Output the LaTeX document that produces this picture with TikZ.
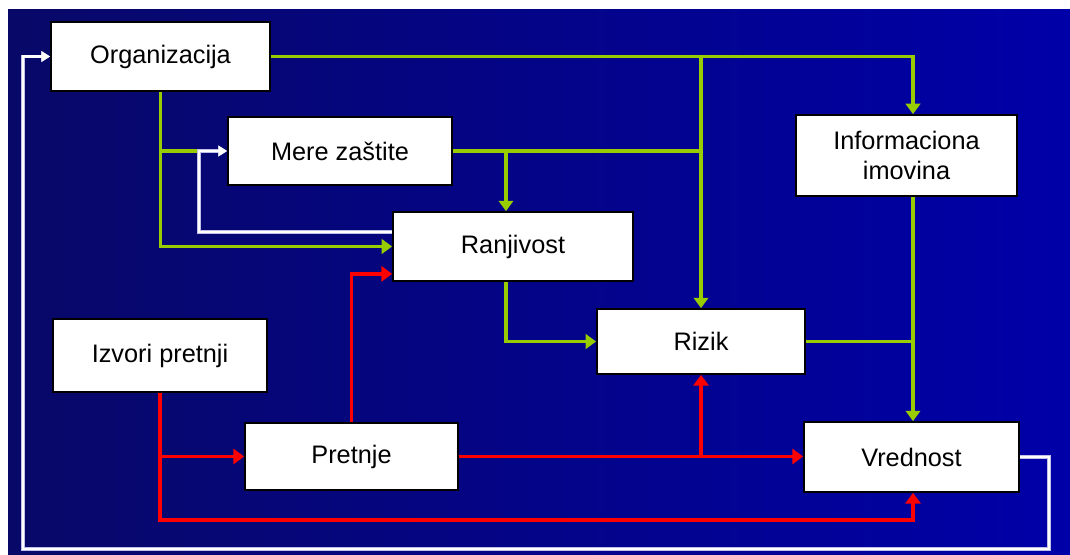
\documentclass[tikz,border=0pt]{standalone}
\usepackage{fontspec}
\setmainfont{Liberation Sans}
\usetikzlibrary{arrows.meta,positioning,calc}
\definecolor{bgleft}{RGB}{8,8,104}
\definecolor{bgright}{RGB}{0,0,168}
\definecolor{linegreen}{RGB}{153,204,0}
\definecolor{linered}{RGB}{255,0,0}
\definecolor{lineedge}{RGB}{190,190,230}
\tikzset{
  box/.style    = {draw=black,line width=1.2pt,fill=white,align=center,
                   font=\fontsize{18}{21.5}\selectfont,inner sep=2pt},
  gline/.style  = {line width=2.5pt,color=linegreen},
  garrow/.style = {gline,-{Triangle[width=0.36cm,length=0.26cm]}},
  rline/.style  = {line width=2.5pt,color=linered},
  rarrow/.style = {rline,-{Triangle[width=0.38cm,length=0.27cm]}},
  warrow/.style = {line width=1.5pt,color=white,
                   preaction={draw=lineedge,line width=2.6pt},
                   -{Triangle[width=0.26cm,length=0.22cm]}},
}
\begin{document}
\begin{tikzpicture}[x=0.025cm,y=-0.025cm]
  \useasboundingbox (0,0) rectangle (1070,554);
  \fill[white] (0,0) rectangle (1070,554);
  \shade[left color=bgleft,right color=bgright] (8,9) rectangle (1070,554);

  \node[box,minimum width=5.475cm,minimum height=1.725cm] (org) at (160.5,56.5) {Organizacija};
  \node[box,minimum width=5.6cm,minimum height=1.7cm] (mere) at (340,151) {Mere zaštite};
  \node[box,minimum width=6.0cm,minimum height=1.725cm] (ranj) at (513,246.5) {Ranjivost};
  \node[box,minimum width=5.525cm,minimum height=2.025cm] (info) at (906.5,155.5) {Informaciona\\imovina};
  \node[box,minimum width=5.2cm,minimum height=1.625cm] (rizik) at (701,341.5) {Rizik};
  \node[box,minimum width=5.35cm,minimum height=1.825cm] (izvori) at (160,355.5) {Izvori pretnji};
  \node[box,minimum width=5.325cm,minimum height=1.675cm] (pretnje) at (351.5,456.5) {Pretnje};
  \node[box,minimum width=5.375cm,minimum height=1.75cm] (vred) at (911.5,457) {Vrednost};

  \coordinate (infoin) at ($(info.north)+(6.5,0)$);
  \coordinate (infoout) at ($(info.south)+(6.5,0)$);
  \coordinate (vredin) at ($(vred.north)+(1.5,0)$);
  \coordinate (vredlow) at ($(vred.south)+(1.5,0)$);
  \coordinate (ranjin) at ($(ranj.north)+(-7,0)$);
  \coordinate (ranjout) at ($(ranj.south)+(-7,0)$);
  \coordinate (loopR) at (1049,549);
  \coordinate (loopL) at (23,549);

  % green
  \draw[garrow] (org.east) -| (infoin);
  \draw[garrow] (rizik.north |- org.east) -- (rizik.north);
  \draw[gline] (mere.east) -- (mere.east -| rizik.north);
  \draw[garrow] (ranjin |- mere.east) -- (ranjin);
  \draw[garrow] (org.south) |- (ranj.west);
  \draw[gline] (org.south |- mere.west) -- ++(40,0);
  \draw[garrow] (ranjout) |- (rizik.west);
  \draw[gline] (rizik.east) -- (rizik.east -| infoout);
  \draw[garrow] (infoout) -- (vredin);

  % red
  \draw[rarrow] (izvori.south) |- (0,520 -| vredlow) -- (vredlow);
  \draw[rarrow] (izvori.south |- pretnje.west) -- (pretnje.west);
  \draw[rarrow] (pretnje.north) |- ($(ranj.south west)+(0,-8)$);
  \draw[rarrow] (pretnje.east) -- (pretnje.east -| vred.west);
  \draw[rarrow] (pretnje.east -| rizik.south) -- (rizik.south);

  % white
  \draw[warrow] (vred.east) -| (loopR) -- (loopL) |- (org.west);
  \draw[warrow] ($(ranj.west)+(0,-14.5)$) -- ++(-193,0) |- (mere.west);
\end{tikzpicture}
\end{document}
